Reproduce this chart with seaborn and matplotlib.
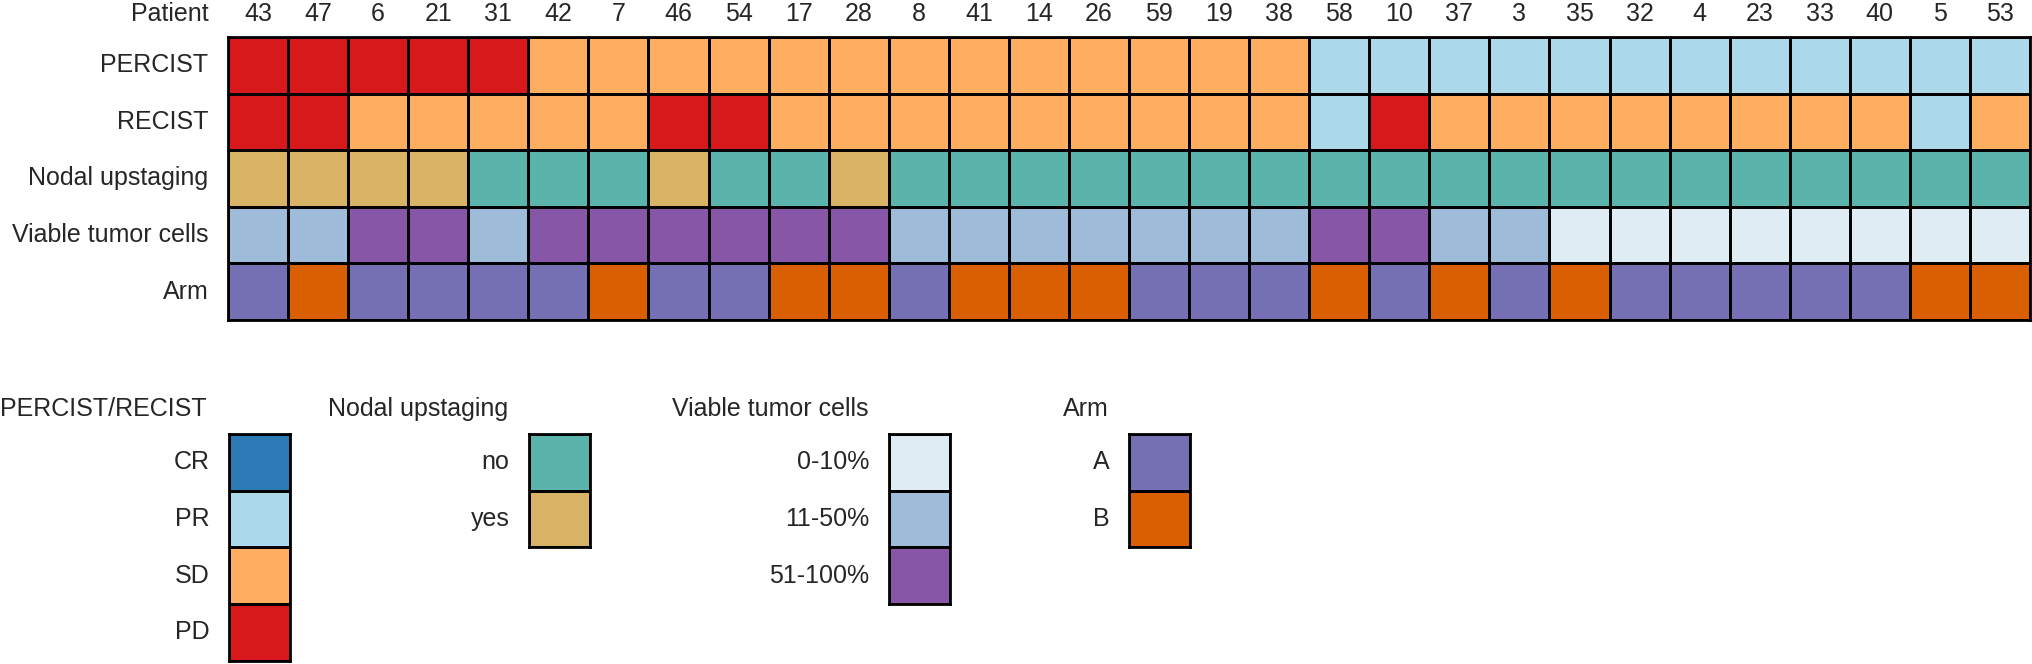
import numpy as np
import pandas as pd
import matplotlib
matplotlib.use("Agg")
import matplotlib.pyplot as plt
import seaborn as sns
from matplotlib.colors import ListedColormap

# data
patients = [43, 47, 6, 21, 31, 42, 7, 46, 54, 17, 28, 8, 41, 14, 26,
            59, 19, 38, 58, 10, 37, 3, 35, 32, 4, 23, 33, 40, 5, 53]
percist = ["PD", "PD", "PD", "PD", "PD", "SD", "SD", "SD", "SD", "SD",
           "SD", "SD", "SD", "SD", "SD", "SD", "SD", "SD", "PR", "PR",
           "PR", "PR", "PR", "PR", "PR", "PR", "PR", "PR", "PR", "PR"]
recist = ["PD", "PD", "SD", "SD", "SD", "SD", "SD", "PD", "PD", "SD",
          "SD", "SD", "SD", "SD", "SD", "SD", "SD", "SD", "PR", "PD",
          "SD", "SD", "SD", "SD", "SD", "SD", "SD", "SD", "PR", "SD"]
nodal = ["yes", "yes", "yes", "yes", "no", "no", "no", "yes", "no", "no",
         "yes", "no", "no", "no", "no", "no", "no", "no", "no", "no",
         "no", "no", "no", "no", "no", "no", "no", "no", "no", "no"]
viable = ["11-50%", "11-50%", "51-100%", "51-100%", "11-50%", "51-100%",
          "51-100%", "51-100%", "51-100%", "51-100%", "51-100%", "11-50%",
          "11-50%", "11-50%", "11-50%", "11-50%", "11-50%", "11-50%",
          "51-100%", "51-100%", "11-50%", "11-50%", "0-10%", "0-10%",
          "0-10%", "0-10%", "0-10%", "0-10%", "0-10%", "0-10%"]
arm = ["A", "B", "A", "A", "A", "A", "B", "A", "A", "B", "B", "A", "B", "B", "B",
       "A", "A", "A", "B", "A", "B", "A", "B", "A", "A", "A", "A", "A", "B", "B"]

resp_levels = ["CR", "PR", "SD", "PD"]
resp_colors = ["#2c7bb6", "#abd9e9", "#fdae61", "#d7191c"]
nodal_levels = ["no", "yes"]
nodal_colors = ["#5ab4ac", "#d8b365"]
viable_levels = ["0-10%", "11-50%", "51-100%"]
viable_colors = ["#e0ecf4", "#9ebcda", "#8856a7"]
arm_levels = ["A", "B"]
arm_colors = ["#7570b3", "#d95f02"]

sns.set_style("white")
plt.rcParams["font.family"] = ["Liberation Sans", "DejaVu Sans"]
plt.rcParams["font.size"] = 18

W, H = 2033, 664
ROW = 56.7
fig = plt.figure(figsize=(W / 100, H / 100), dpi=100)

# one palette for all tracks, each track gets an offset into it
all_colors = resp_colors + nodal_colors + viable_colors + arm_colors
off_nodal = len(resp_colors)
off_viable = off_nodal + len(nodal_colors)
off_arm = off_viable + len(viable_colors)


def codes(values, levels, offset):
    return [offset + levels.index(v) for v in values]


grid = pd.DataFrame(
    [codes(percist, resp_levels, 0),
     codes(recist, resp_levels, 0),
     codes(nodal, nodal_levels, off_nodal),
     codes(viable, viable_levels, off_viable),
     codes(arm, arm_levels, off_arm)],
    index=["PERCIST", "RECIST", "Nodal upstaging", "Viable tumor cells", "Arm"],
    columns=patients)

ax = fig.add_axes([228 / W, 1 - 320 / H, 1802 / W, 283 / H])
sns.heatmap(grid, ax=ax, cmap=ListedColormap(all_colors), vmin=-0.5,
            vmax=len(all_colors) - 0.5, cbar=False, linewidths=2, linecolor="black")
ax.xaxis.tick_top()
ax.tick_params(axis="x", length=0, pad=8, labelsize=18, rotation=0)
ax.tick_params(axis="y", length=0, pad=14, labelsize=18, rotation=0)
ax.set_xlabel("")
ax.set_ylabel("")
for sp in ax.spines.values():
    sp.set_visible(True)
    sp.set_linewidth(2)
    sp.set_color("black")
fig.text(209 / W, 1 - 21 / H, "Patient", ha="right", va="baseline", fontsize=18)


def legend_block(left, title_x, title, levels, colors):
    n = len(levels)
    lax = fig.add_axes([left / W, 1 - (434 + n * ROW) / H, 61 / W, n * ROW / H])
    df = pd.DataFrame({"v": list(range(n))}, index=levels)
    sns.heatmap(df, ax=lax, cmap=ListedColormap(colors), vmin=-0.5, vmax=n - 0.5,
                cbar=False, linewidths=2, linecolor="black", xticklabels=False)
    lax.tick_params(axis="y", length=0, pad=14, labelsize=18, rotation=0)
    lax.set_ylabel("")
    for sp in lax.spines.values():
        sp.set_visible(True)
        sp.set_linewidth(2)
        sp.set_color("black")
    fig.text(title_x / W, 1 - 416 / H, title, ha="left", va="baseline", fontsize=18)


legend_block(229, 0, "PERCIST/RECIST", resp_levels, resp_colors)
legend_block(529, 328, "Nodal upstaging", nodal_levels, nodal_colors)
legend_block(889, 672, "Viable tumor cells", viable_levels, viable_colors)
legend_block(1129, 1063, "Arm", arm_levels, arm_colors)

fig.savefig("out.png", dpi=100)
